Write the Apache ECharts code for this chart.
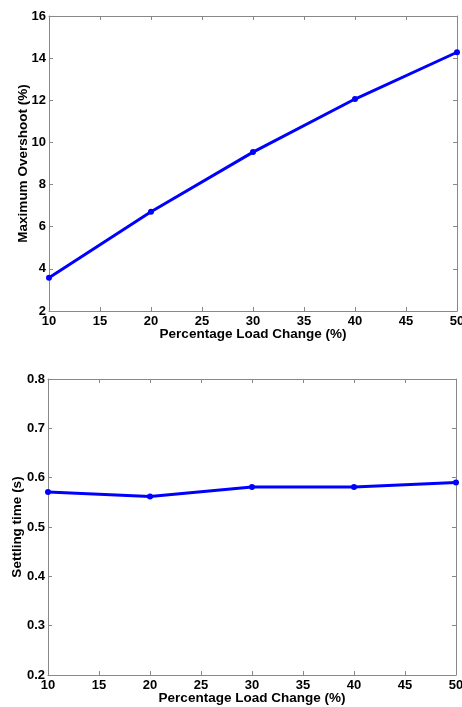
<!DOCTYPE html>
<html>
<head>
<meta charset="utf-8">
<title>Load change response</title>
<script src="https://cdn.jsdelivr.net/npm/echarts@6/dist/echarts.min.js"></script>
<style>
  html, body { margin: 0; padding: 0; background: #fff; }
  #chart { width: 462px; height: 707px; }
</style>
</head>
<body>
<div id="chart"></div>
<script>
// Percentage load change (%) for each test run
const loadChange = [10, 20, 30, 40, 50];
// Maximum overshoot (%) measured at each load change
const overshoot = [3.58, 6.71, 9.54, 12.06, 14.28];
// Settling time (s) measured at each load change
const settlingTime = [0.571, 0.562, 0.581, 0.581, 0.590];

const FONT = 'Liberation Sans, Arial, sans-serif';
const FRAME = '#888888';
const BLUE = '#0000ff';

const tickLabel = { color: '#000', fontFamily: FONT, fontWeight: 'bold', fontSize: 13 };
const nameText = { color: '#000', fontFamily: FONT, fontWeight: 'bold', fontSize: 13.5 };

function xAxes(gridIndex) {
  const base = {
    type: 'value', gridIndex, min: 10, max: 50, interval: 5,
    splitLine: { show: false },
    axisLine: { show: true, lineStyle: { color: FRAME, width: 1 } },
    axisTick: { show: true, inside: true, length: 4, lineStyle: { color: FRAME } }
  };
  return [
    Object.assign({}, base, {
      position: 'bottom',
      axisLabel: Object.assign({ margin: 4, showMinLabel: true, showMaxLabel: true }, tickLabel),
      name: 'Percentage Load Change (%)', nameLocation: 'middle', nameGap: 16,
      nameMoveOverlap: false,
      nameTextStyle: nameText
    }),
    Object.assign({}, base, { position: 'top', axisLabel: { show: false } })
  ];
}

function yAxes(gridIndex, min, max, interval, name, gap, fmt) {
  const base = {
    type: 'value', gridIndex, min, max, interval,
    splitLine: { show: false },
    axisLine: { show: true, lineStyle: { color: FRAME, width: 1 } },
    axisTick: { show: true, inside: true, length: 4, lineStyle: { color: FRAME } }
  };
  return [
    Object.assign({}, base, {
      position: 'left',
      axisLabel: Object.assign({ margin: 3, formatter: fmt }, tickLabel),
      name, nameLocation: 'middle', nameGap: gap, nameMoveOverlap: false,
      nameTextStyle: nameText
    }),
    Object.assign({}, base, { position: 'right', axisLabel: { show: false } })
  ];
}

const chart = echarts.init(document.getElementById('chart'), null, { renderer: 'canvas' });

chart.setOption({
  backgroundColor: '#ffffff',
  animation: false,
  grid: [
    { left: 49, right: 5, top: 16, height: 295, containLabel: false, outerBoundsMode: 'none' },
    { left: 48, right: 6, top: 379, height: 296, containLabel: false, outerBoundsMode: 'none' }
  ],
  xAxis: [...xAxes(0), ...xAxes(1)],
  yAxis: [
    ...yAxes(0, 2, 16, 2, 'Maximum Overshoot (%)', 19, v => String(v)),
    ...yAxes(1, 0.2, 0.8, 0.1, 'Settling time (s)', 24, v => v.toFixed(1))
  ],
  series: [
    {
      type: 'line', xAxisIndex: 0, yAxisIndex: 0,
      data: loadChange.map((x, i) => [x, overshoot[i]]),
      symbol: 'circle', symbolSize: 6,
      lineStyle: { color: BLUE, width: 3 },
      itemStyle: { color: BLUE }
    },
    {
      type: 'line', xAxisIndex: 2, yAxisIndex: 2,
      data: loadChange.map((x, i) => [x, settlingTime[i]]),
      symbol: 'circle', symbolSize: 6,
      lineStyle: { color: BLUE, width: 3 },
      itemStyle: { color: BLUE }
    }
  ]
});
</script>
</body>
</html>
